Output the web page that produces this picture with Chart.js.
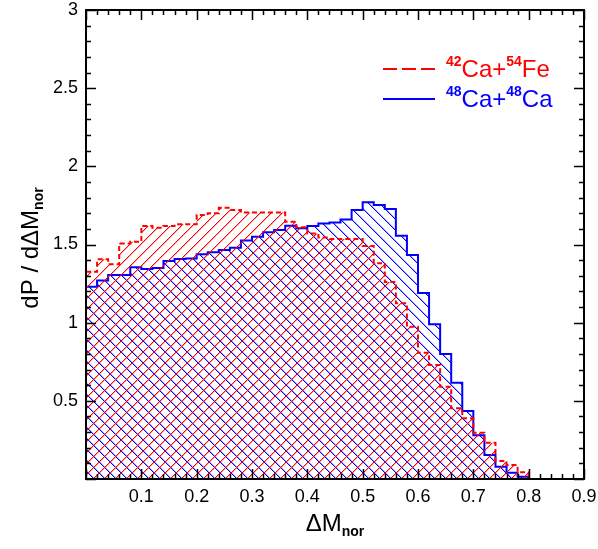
<!DOCTYPE html>
<html>
<head>
<meta charset="utf-8">
<script src="https://cdn.jsdelivr.net/npm/chart.js@4/dist/chart.umd.min.js"></script>
<style>
html,body{margin:0;padding:0;background:#fff;}
#wrap{width:598px;height:549px;}
</style>
</head>
<body>
<div id="wrap"><canvas id="c" width="598" height="549"></canvas></div>
<script>
// histogram bins, width 0.02 from 0 to 0.9
const binWidth = 0.02;
const xMax = 0.9;
const caFe = [1.326,1.405,1.373,1.507,1.518,1.618,1.607,1.618,1.629,1.629,
              1.689,1.700,1.735,1.720,1.705,1.705,1.705,1.705,1.645,1.610,
              1.570,1.544,1.535,1.535,1.535,1.490,1.380,1.260,1.124,0.974,
              0.808,0.729,0.590,0.452,0.388,0.296,0.232,0.115,0.090,0.043,
              0,0,0,0,0];
const caCa = [1.230,1.270,1.305,1.305,1.355,1.343,1.350,1.395,1.407,1.410,
              1.437,1.450,1.465,1.480,1.525,1.550,1.578,1.593,1.620,1.604,
              1.618,1.635,1.640,1.660,1.720,1.770,1.753,1.727,1.556,1.433,
              1.190,0.990,0.800,0.615,0.435,0.280,0.154,0.079,0.040,0.015,
              0,0,0,0,0];
const xTickLabels = [0.1,0.2,0.3,0.4,0.5,0.6,0.7,0.8,0.9];
const yTickLabels = [0.5,1,1.5,2,2.5,3];

const FONT = "'Liberation Sans', Arial, Helvetica, sans-serif";
const canvas = document.getElementById('c');
const ctx = canvas.getContext('2d');

function toPoints(vals){
    const pts = vals.map((v,i)=>({x:+(i*binWidth).toFixed(2), y:v}));
    pts.push({x:xMax, y:vals[vals.length-1]});
    return pts;
}

// crisp diagonal hatch tile, dir 1 = '/', -1 = '\'
function hatch(color, dir){
    const s = 11, c = document.createElement('canvas');
    c.width = c.height = s;
    const g = c.getContext('2d');
    g.fillStyle = color;
    for(let i=0;i<s;i++){
        const x = dir>0 ? s-1-i : i;
        g.fillRect(x,i,1,1);
    }
    g.globalAlpha = 0.35;
    for(let i=0;i<s;i++){
        const x = dir>0 ? (s-i)%s : (i+1)%s;
        g.fillRect(x,i,1,1);
    }
    return ctx.createPattern(c,'repeat');
}

// text with super/subscripts: parts = [[text, kind]] kind: 0 normal, 1 sup, -1 sub
function richText(g, x, y, parts, size){
    parts.forEach(([t,k])=>{
        if(k===0){ g.font = size+'px '+FONT; g.fillText(t,x,y); }
        else if(k===1){ g.font = 'bold '+Math.round(size*0.6)+'px '+FONT; g.fillText(t,x,y-size*0.45); }
        else { g.font = 'bold '+Math.round(size*0.6)+'px '+FONT; g.fillText(t,x,y+size*0.22); }
        x += g.measureText(t).width;
    });
    return x;
}
function richWidth(g, parts, size){
    let w = 0;
    parts.forEach(([t,k])=>{
        g.font = (k===0 ? size+'px ' : 'bold '+Math.round(size*0.6)+'px ')+FONT;
        w += g.measureText(t).width;
    });
    return w;
}

function noPad(s){ s.paddingLeft = s.paddingRight = s.paddingTop = s.paddingBottom = 0; }

const framePlugin = {
    id:'frame',
    afterDraw(chart){
        const g = chart.ctx, a = chart.chartArea;
        const xs = chart.scales.x, ys = chart.scales.y;
        g.save();
        g.strokeStyle = '#000'; g.lineWidth = 2;
        g.strokeRect(a.left, a.top, a.right-a.left, a.bottom-a.top);
        g.lineWidth = 1.5;
        g.beginPath();
        for(let i=0;i<=30;i++){
            const y = Math.round(ys.getPixelForValue(i*0.1))+0.5;
            const len = i%5===0 ? 10 : 5;
            g.moveTo(a.left,y); g.lineTo(a.left+len,y);
            g.moveTo(a.right,y); g.lineTo(a.right-len,y);
        }
        for(let i=0;i<=45;i++){
            const x = Math.round(xs.getPixelForValue(i*0.02))+0.5;
            const len = i%5===0 ? 10 : 5;
            g.moveTo(x,a.bottom); g.lineTo(x,a.bottom-len);
            g.moveTo(x,a.top); g.lineTo(x,a.top+len);
        }
        g.stroke();

        // legend
        g.fillStyle = '#ff0000'; g.strokeStyle = '#ff0000'; g.lineWidth = 2;
        g.setLineDash([14,5]);
        g.beginPath(); g.moveTo(383,69); g.lineTo(435,69); g.stroke();
        g.setLineDash([]);
        g.textBaseline = 'alphabetic'; g.textAlign = 'left';
        richText(g, 446, 77, [['42',1],['Ca+',0],['54',1],['Fe',0]], 24);
        g.fillStyle = '#0000ff'; g.strokeStyle = '#0000ff';
        g.beginPath(); g.moveTo(383,99); g.lineTo(435,99); g.stroke();
        richText(g, 446, 107, [['48',1],['Ca+',0],['48',1],['Ca',0]], 24);

        // axis titles
        g.fillStyle = '#000';
        const xt = [['\u0394M',0],['nor',-1]];
        const xw = richWidth(g, xt, 24);
        richText(g, (a.left+a.right)/2 - xw/2, 531, xt, 24);
        const yt = [['dP / d\u0394M',0],['nor',-1]];
        const yw = richWidth(g, yt, 24);
        g.translate(38, 248);
        g.rotate(-Math.PI/2);
        richText(g, -yw/2, 0, yt, 24);
        g.restore();
    }
};

new Chart(ctx, {
    type:'line',
    data:{datasets:[
        {label:'42Ca+54Fe', data:toPoints(caFe), stepped:true, borderColor:'#ff0000', borderWidth:2,
         borderDash:[5,3], backgroundColor:hatch('#ff0000',1), fill:'origin', pointRadius:0},
        {label:'48Ca+48Ca', data:toPoints(caCa), stepped:true, borderColor:'#0000ff', borderWidth:2,
         backgroundColor:hatch('#0000ff',-1), fill:'origin', pointRadius:0}
    ]},
    options:{
        responsive:false, animation:false, devicePixelRatio:1,
        layout:{padding:{top:10, right:14, left:0, bottom:0}},
        plugins:{legend:{display:false}, tooltip:{enabled:false}},
        scales:{
            x:{type:'linear', min:0, max:xMax,
               grid:{display:false, drawTicks:false}, border:{display:false},
               ticks:{stepSize:0.1, autoSkip:false, maxRotation:0, padding:7, color:'#000',
                      font:{size:18, family:FONT},
                      callback:v=>xTickLabels.some(t=>Math.abs(t-v)<1e-6) ? String(+v.toFixed(1)) : ''},
               afterFit:s=>{s.height=70; noPad(s);}},
            y:{min:0, max:3,
               grid:{display:false, drawTicks:false}, border:{display:false},
               ticks:{stepSize:0.5, padding:8, color:'#000', font:{size:18, family:FONT},
                      callback:v=>yTickLabels.some(t=>Math.abs(t-v)<1e-6) ? String(+v.toFixed(1)) : ''},
               afterFit:s=>{s.width=86; noPad(s);}}
        }
    },
    plugins:[framePlugin]
});
</script>
</body>
</html>
